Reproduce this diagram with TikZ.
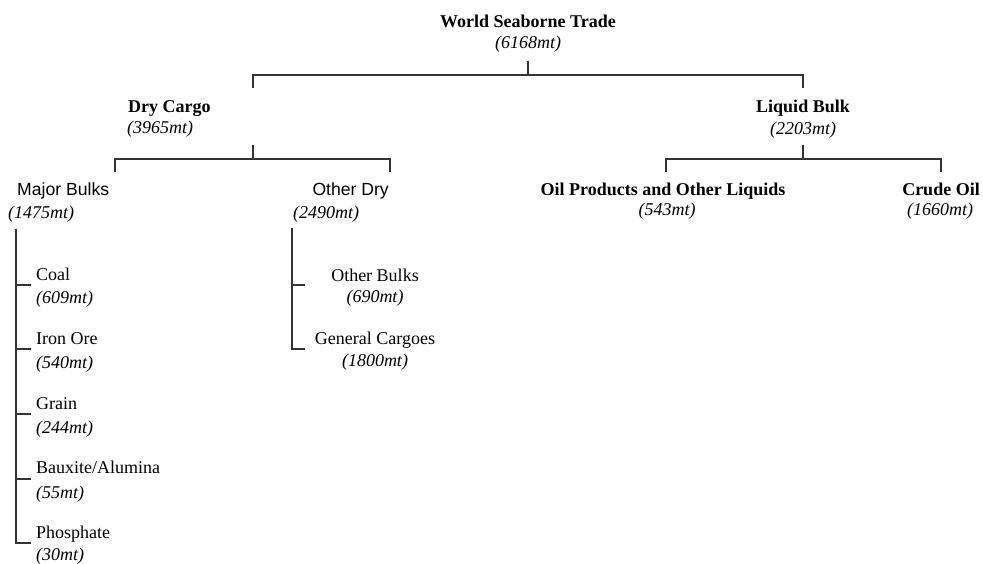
\documentclass[tikz,border=0pt]{standalone}
\usepackage{fontspec}
\setmainfont{Liberation Serif}
\setsansfont{Liberation Sans}
\begin{document}
\begin{tikzpicture}[x=1pt,y=-1pt,
  lbl/.style={inner sep=0pt,font=\fontsize{18}{21}\selectfont},
  bname/.style={lbl,font=\fontsize{18}{21}\selectfont\bfseries},
  sname/.style={lbl,font=\fontsize{17.6}{21}\selectfont\sffamily},
  num/.style={lbl,font=\fontsize{18}{21}\selectfont\itshape},
  link/.style={draw=black!80,line width=1.3pt}]
\useasboundingbox (0,0) rectangle (983,564);
% nodes
\node[bname,anchor=base] (title) at (528,28) {World Seaborne Trade};
\node[num,anchor=base] (titlenum) at (528,49) {(6168mt)};
\node[bname,anchor=base west] (dry) at (128,113) {Dry Cargo};
\node[num,anchor=base west] (drynum) at (127,134) {(3965mt)};
\node[bname,anchor=base] (liq) at (803,113) {Liquid Bulk};
\node[num,anchor=base] (liqnum) at (803,135) {(2203mt)};
\node[sname,anchor=base west] (major) at (17,196) {Major Bulks};
\node[num,anchor=base west] (majornum) at (8,219) {(1475mt)};
\node[sname,anchor=base east] (otherdry) at (389,196) {Other Dry};
\node[num,anchor=base west] (otherdrynum) at (293,219) {(2490mt)};
\node[bname,anchor=base] (oil) at (663,196) {Oil Products and Other Liquids};
\node[num,anchor=base] (oilnum) at (667,216) {(543mt)};
\node[bname,anchor=base] (crude) at (941,196) {Crude Oil};
\node[num,anchor=base] (crudenum) at (940,216) {(1660mt)};
\node[lbl,anchor=base west] (coal) at (36,280) {Coal};
\node[num,anchor=base west] (coalnum) at (36,303) {(609mt)};
\node[lbl,anchor=base west] (iron) at (36,344) {Iron Ore};
\node[num,anchor=base west] (ironnum) at (36,368) {(540mt)};
\node[lbl,anchor=base west] (grain) at (36,409) {Grain};
\node[num,anchor=base west] (grainnum) at (36,433) {(244mt)};
\node[lbl,anchor=base west] (baux) at (36,473) {Bauxite/Alumina};
\node[num,anchor=base west] (bauxnum) at (36,498) {(55mt)};
\node[lbl,anchor=base west] (phos) at (36,538) {Phosphate};
\node[num,anchor=base west] (phosnum) at (36,560) {(30mt)};
\node[lbl,anchor=base] (obulk) at (375,281) {Other Bulks};
\node[num,anchor=base] (obulknum) at (375,302) {(690mt)};
\node[lbl,anchor=base] (gen) at (375,344) {General Cargoes};
\node[num,anchor=base] (gennum) at (375,366) {(1800mt)};
% junction coordinates
\coordinate (t0) at (528,61);
\coordinate (t1) at (528,75);
\coordinate (tl) at (253,75);
\coordinate (tr) at (803,75);
\coordinate (tld) at (253,88);
\coordinate (trd) at (803,88);
\coordinate (d0) at (253,145);
\coordinate (d1) at (253,159);
\coordinate (dl) at (115,159);
\coordinate (dr) at (390,159);
\coordinate (dld) at (115,172);
\coordinate (drd) at (390,172);
\coordinate (l0) at (803,145);
\coordinate (l1) at (803,159);
\coordinate (ll) at (666,159);
\coordinate (lr) at (941,159);
\coordinate (lld) at (666,172);
\coordinate (lrd) at (941,172);
\coordinate (m0) at (16,229);
\coordinate (mcoal) at (16,285);
\coordinate (miron) at (16,349);
\coordinate (mgrain) at (16,414);
\coordinate (mbaux) at (16,479);
\coordinate (mphos) at (16,543);
\coordinate (o0) at (292,228);
\coordinate (obk) at (292,285);
\coordinate (ogen) at (292,349);
% connectors
\draw[link] (t0) -- (t1);
\draw[link] (tld) -- (tl) -- (tr) -- (trd);
\draw[link] (d0) -- (d1);
\draw[link] (dld) -- (dl) -- (dr) -- (drd);
\draw[link] (l0) -- (l1);
\draw[link] (lld) -- (ll) -- (lr) -- (lrd);
\draw[link] (m0) -- (mphos) -- ++(15,0);
\foreach \c in {mcoal,miron,mgrain,mbaux} \draw[link] (\c) -- ++(15,0);
\draw[link] (o0) -- (ogen) -- ++(13,0);
\draw[link] (obk) -- ++(13,0);
\end{tikzpicture}
\end{document}
